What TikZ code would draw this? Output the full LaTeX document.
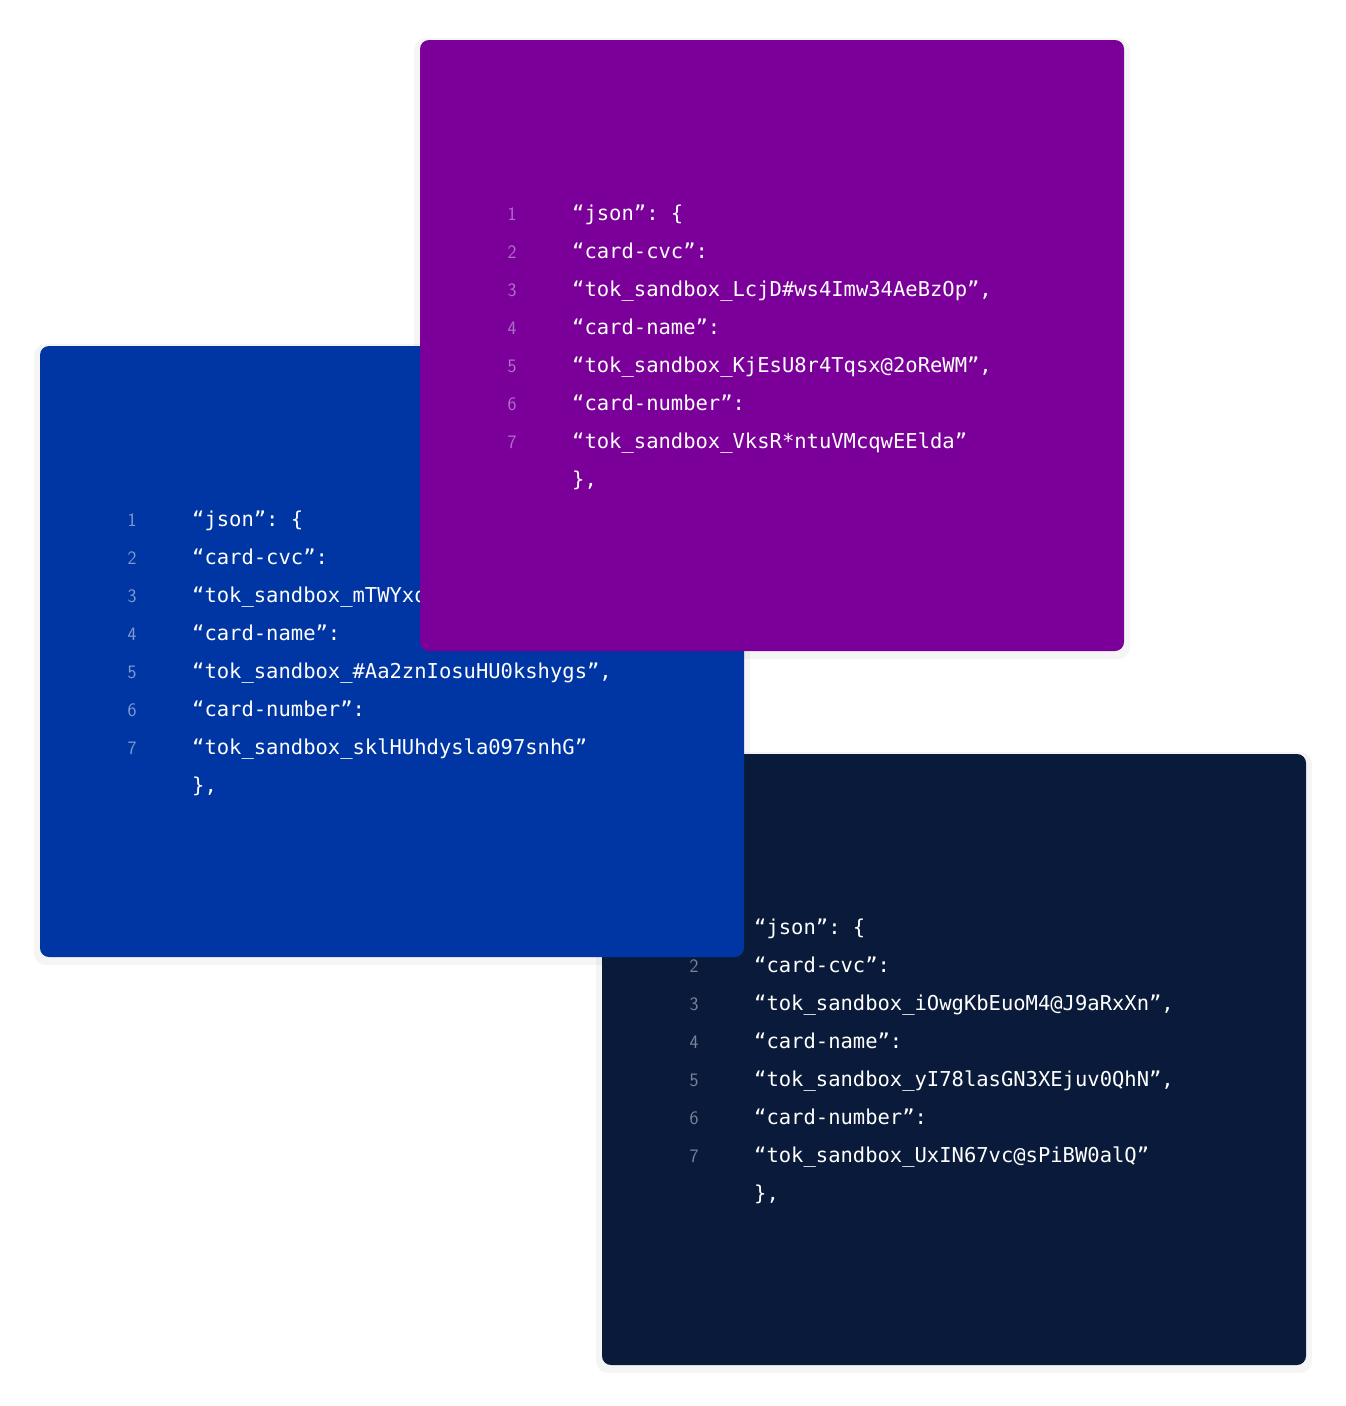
\documentclass[tikz,border=0pt]{standalone}
\usepackage{fontspec}
\setmonofont{DejaVu Sans Mono}
\begin{document}
\begin{tikzpicture}[x=1pt,y=-1pt,
  card/.style={rounded corners=9pt},
  code/.style={anchor=base west,text=white,inner sep=0pt,font=\ttfamily\fontsize{20.5}{24}\selectfont},
  num/.style={anchor=base,inner sep=0pt,font=\sffamily\fontsize{19}{24}\selectfont}]
\useasboundingbox (0,0) rectangle (1346,1406);
\definecolor{cpurple}{HTML}{7B0099}
\definecolor{cblue}{HTML}{0036A3}
\definecolor{cnavy}{HTML}{0A1A3A}
\definecolor{npurple}{HTML}{B070C8}
\definecolor{nblue}{HTML}{7F9AD1}
\definecolor{nnavy}{HTML}{7A8499}
\foreach \c/\x/\y in {navy/602/754,blue/40/346,purple/420/40}{
 \fill[black,opacity=0.04,rounded corners=12pt] (\x-6,\y-2) rectangle (\x+710,\y+619);}
% navy
\fill[card,cnavy] (602,754) rectangle (1306,1365);
\foreach \i/\t in {1/{“json”: \{},2/{“card-cvc”:},3/{“tok\_sandbox\_iOwgKbEuoM4@J9aRxXn”,},4/{“card-name”:},5/{“tok\_sandbox\_yI78lasGN3XEjuv0QhN”,},6/{“card-number”:},7/{“tok\_sandbox\_UxIN67vc@sPiBW0alQ”}}{
 \node[num,text=nnavy] (nn\i) at (694,{896+38*\i}) {\i};
 \node[code] (nc\i) at (754,{896+38*\i}) {\t};}
\node[code] (nc8) at (754,1200) {\},};
% blue
\fill[card,cblue] (40,346) rectangle (744,957);
\foreach \i/\t in {1/{“json”: \{},2/{“card-cvc”:},3/{“tok\_sandbox\_mTWYxq8Lr3AbcDe”,},4/{“card-name”:},5/{“tok\_sandbox\_\#Aa2znIosuHU0kshygs”,},6/{“card-number”:},7/{“tok\_sandbox\_sklHUhdysla097snhG”}}{
 \node[num,text=nblue] (bn\i) at (132,{488+38*\i}) {\i};
 \node[code] (bc\i) at (192,{488+38*\i}) {\t};}
\node[code] (bc8) at (192,792) {\},};
% purple
\fill[card,cpurple] (420,40) rectangle (1124,651);
\foreach \i/\t in {1/{“json”: \{},2/{“card-cvc”:},3/{“tok\_sandbox\_LcjD\#ws4Imw34AeBzOp”,},4/{“card-name”:},5/{“tok\_sandbox\_KjEsU8r4Tqsx@2oReWM”,},6/{“card-number”:},7/{“tok\_sandbox\_VksR*ntuVMcqwEElda”}}{
 \node[num,text=npurple] (pn\i) at (512,{182+38*\i}) {\i};
 \node[code] (pc\i) at (572,{182+38*\i}) {\t};}
\node[code] (pc8) at (572,486) {\},};
\end{tikzpicture}
\end{document}
